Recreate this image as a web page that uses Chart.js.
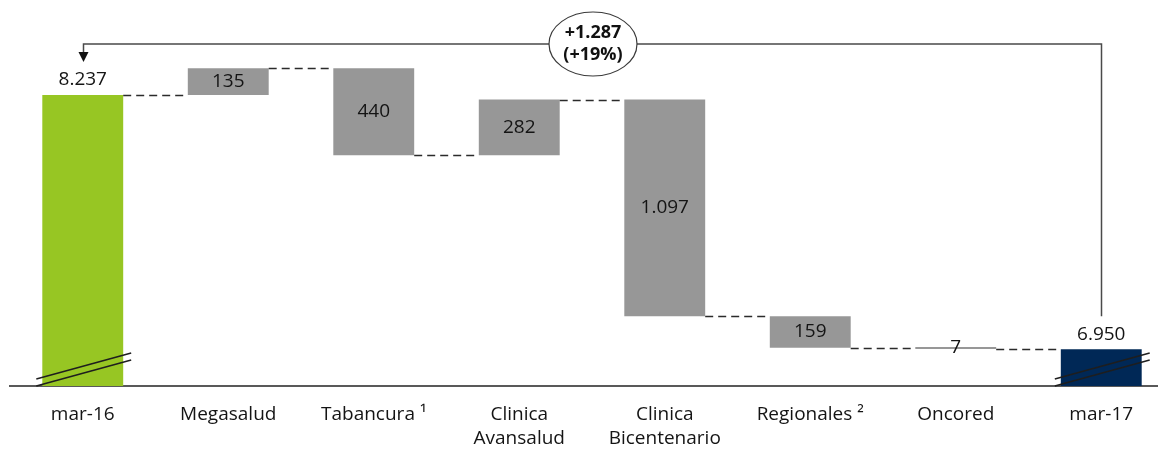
<!DOCTYPE html>
<html>
<head>
<meta charset="utf-8">
<script src="https://cdn.jsdelivr.net/npm/chart.js@4"></script>
<style>
  html, body { margin: 0; padding: 0; background: #ffffff; overflow: hidden; }
  #wrap { position: relative; width: 1174px; height: 451px; }
</style>
</head>
<body>
<div id="wrap"><canvas id="c"></canvas></div>
<script>
// ---- data ----
const categories = [['mar-16'], ['Megasalud'], ['Tabancura \u00B9'], ['Clinica', 'Avansalud'], ['Clinica', 'Bicentenario'], ['Regionales \u00B2'], ['Oncored'], ['mar-17']];
const startValue = 8237;
const changes = [135, -440, 282, -1097, -159, -7];
const endValue = 6950;
const valueLabels = ['8.237', '135', '440', '282', '1.097', '159', '7', '6.950'];
const totalChangeLabel = ['+1.287', '(+19%)'];
const axisMin = 6764;
const axisMax = 8718;

const colorStart = '#97C623';
const colorStep = '#979797';
const colorEnd = '#002856';

// build floating bars from the arrays
const barData = [[axisMin, startValue]];
let running = startValue;
changes.forEach(d => {
  const next = running + d;
  barData.push([Math.min(running, next), Math.max(running, next)]);
  running = next;
});
barData.push([axisMin, endValue]);
const barColors = barData.map((_, i) => i === 0 ? colorStart : (i === barData.length - 1 ? colorEnd : colorStep));

const FONT = '"Open Sans", sans-serif';
const TEXT = '#141414';

const overlay = {
  id: 'overlay',
  afterDatasetsDraw(chart) {
    const ctx = chart.ctx;
    const meta = chart.getDatasetMeta(0);
    const ys = chart.scales.y;
    const bars = meta.data;
    const n = bars.length;
    ctx.save();

    // dashed connectors
    ctx.strokeStyle = '#2b2b2b';
    ctx.lineWidth = 1.3;
    ctx.setLineDash([8, 5]);
    let level = startValue;
    for (let i = 0; i < n - 1; i++) {
      const a = bars[i], b = bars[i + 1];
      if (i > 0) level += changes[i - 1];
      const y = Math.round(ys.getPixelForValue(level)) + 0.5;
      ctx.beginPath();
      ctx.moveTo(a.x + a.width / 2, y);
      ctx.lineTo(b.x - b.width / 2, y);
      ctx.stroke();
    }
    ctx.setLineDash([]);

    // axis-break marks on first and last bar
    const base = ys.getPixelForValue(axisMin);
    [bars[0], bars[n - 1]].forEach(b => {
      const x0 = b.x - b.width / 2 - 6, x1 = b.x + b.width / 2 + 8;
      ctx.strokeStyle = '#1e1e1e';
      ctx.lineWidth = 1.5;
      [0, 7].forEach(off => {
        ctx.beginPath();
        ctx.moveTo(x0, base - off);
        ctx.lineTo(x1, base - off - 26);
        ctx.stroke();
      });
    });

    // value labels
    ctx.fillStyle = TEXT;
    ctx.font = '19px ' + FONT;
    ctx.textAlign = 'center';
    ctx.textBaseline = 'middle';
    bars.forEach((b, i) => {
      let y;
      if (i === 0 || i === n - 1) {
        y = Math.min(b.y, b.base) - 15;
      } else {
        y = (b.y + b.base) / 2;
      }
      ctx.fillText(valueLabels[i], b.x, y);
    });

    // arrow from last bar to first bar
    const top = chart.chartArea.top + 44;
    const first = bars[0], last = bars[n - 1];
    const lastLabelTop = Math.min(last.y, last.base) - 33;
    const firstArrowTip = Math.min(first.y, first.base) - 33;
    ctx.strokeStyle = '#4a4a4a';
    ctx.lineWidth = 1.5;
    ctx.beginPath();
    ctx.moveTo(Math.round(last.x) + 0.5, lastLabelTop);
    ctx.lineTo(Math.round(last.x) + 0.5, top);
    ctx.lineTo(Math.round(first.x) + 0.5, top);
    ctx.lineTo(Math.round(first.x) + 0.5, firstArrowTip - 8);
    ctx.stroke();
    ctx.fillStyle = '#111111';
    ctx.beginPath();
    ctx.moveTo(Math.round(first.x) + 0.5 - 5, firstArrowTip - 10);
    ctx.lineTo(Math.round(first.x) + 0.5 + 5, firstArrowTip - 10);
    ctx.lineTo(Math.round(first.x) + 0.5, firstArrowTip);
    ctx.closePath();
    ctx.fill();

    // ellipse with total change
    const cx = 593, cy = top;
    ctx.beginPath();
    ctx.ellipse(cx, cy, 44, 32, 0, 0, Math.PI * 2);
    ctx.fillStyle = '#ffffff';
    ctx.fill();
    ctx.strokeStyle = '#3a3a3a';
    ctx.lineWidth = 1.2;
    ctx.stroke();
    ctx.fillStyle = '#111111';
    ctx.font = 'bold 18px ' + FONT;
    ctx.fillText(totalChangeLabel[0], cx, cy - 11);
    ctx.fillText(totalChangeLabel[1], cx, cy + 11);

    ctx.restore();
  }
};

new Chart(document.getElementById('c'), {
  type: 'bar',
  data: {
    labels: categories,
    datasets: [{
      data: barData,
      backgroundColor: barColors,
      borderWidth: 0,
      barPercentage: 0.556,
      categoryPercentage: 1.0,
      borderSkipped: false,
      minBarLength: 2
    }]
  },
  options: {
    responsive: true,
    maintainAspectRatio: false,
    animation: false,
    layout: { padding: { left: 10, right: 0, top: 0, bottom: 0 } },
    plugins: { legend: { display: false }, tooltip: { enabled: false } },
    scales: {
      y: { display: false, min: axisMin, max: axisMax },
      x: {
        afterFit(scale) { scale.height = 65; },
        grid: { display: false, drawTicks: false },
        border: { display: true, color: '#595959', width: 2 },
        ticks: {
          color: TEXT,
          padding: 16,
          maxRotation: 0,
          autoSkip: false,
          font: { family: FONT, size: 19, lineHeight: 1.3 }
        }
      }
    }
  },
  plugins: [overlay]
});
</script>
</body>
</html>
